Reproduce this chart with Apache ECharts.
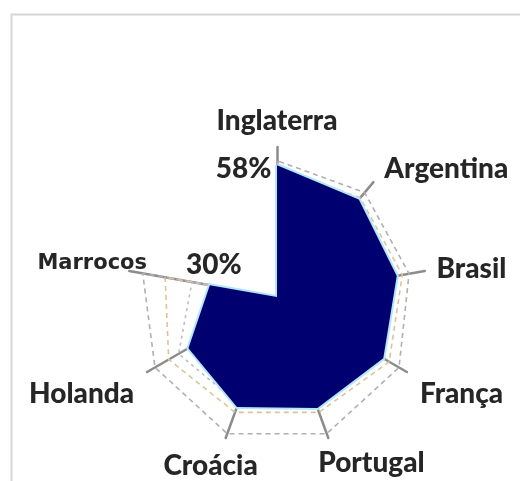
<!DOCTYPE html>
<html>
<head>
<meta charset="utf-8">
<script src="https://cdn.jsdelivr.net/npm/echarts@6/dist/echarts.min.js"></script>
<style>
html,body{margin:0;padding:0;background:#fff;}
#chart{width:520px;height:481px;}
</style>
</head>
<body>
<div id="chart"></div>
<script>
// Indicators in counter-clockwise order starting at the top (blank axis = notch)
var categories = ['Inglaterra', '', 'Marrocos', 'Holanda', 'Croácia', 'Portugal', 'França', 'Brasil', 'Argentina'];
var mainValues = [58, 0, 30, 45, 51.5, 52, 54, 53.5, 56];
var dashedOuter = [60, 0, 60, 62, 64, 64, 62, 59, 60];
var dashedMiddle = [57, 0, 50, 55, 54, 54, 57, 56, 57];
var dashedInner = [55, 0, 38, 50, 50, 50, 52, 52, 54];
var labelledMain = [0];      // index of Inglaterra
var labelledSecond = [2];    // index of Marrocos
var axisMax = 66;

var WEIGHT = 900;
function nameStyle(extra) {
  var o = {color: '#262626', fontFamily: 'Lato', fontWeight: WEIGHT, fontSize: 28};
  for (var j in (extra || {})) o[j] = extra[j];
  return o;
}
var indicatorStyles = {
  'Inglaterra': {nameGap: 12, nameTextStyle: nameStyle()},
  '': {axisLine: {show: false}},
  'Marrocos': {nameGap: -18, nameTextStyle: nameStyle({fontSize: 21, fontFamily: 'DejaVu Sans', fontWeight: 'bold', verticalAlign: 'bottom'})},
  'Holanda': {nameGap: 15, nameTextStyle: nameStyle({verticalAlign: 'top'})},
  'Croácia': {nameTextStyle: nameStyle({align: 'center', verticalAlign: 'top', padding: [0, 20, 0, 0]})},
  'Portugal': {nameGap: 12, nameTextStyle: nameStyle({align: 'center', verticalAlign: 'top', padding: [0, 0, 0, 78]})},
  'França': {nameGap: 15, nameTextStyle: nameStyle({verticalAlign: 'top'})},
  'Brasil': {nameGap: 12, nameTextStyle: nameStyle()},
  'Argentina': {nameGap: 17, nameTextStyle: nameStyle()}
};

var indicators = categories.map(function (c) {
  var o = {name: c, max: axisMax, min: 0};
  var s = indicatorStyles[c] || {};
  for (var k in s) o[k] = s[k];
  return o;
});

var hiddenSymbol = {color: 'rgba(0,0,0,0)', borderWidth: 0};

var chart = echarts.init(document.getElementById('chart'), null, {renderer: 'canvas'});
chart.setOption({
  animation: false,
  backgroundColor: '#ffffff',
  graphic: [{
    type: 'rect', left: 9, top: 12, silent: true,
    shape: {width: 530, height: 490},
    style: {fill: 'none', stroke: '#d6d6d6', lineWidth: 2}
  }],
  radar: {
    center: [277, 297],
    radius: 150,
    startAngle: 90,
    splitNumber: 6,
    shape: 'circle',
    indicator: indicators,
    axisName: nameStyle(),
    nameGap: 15,
    axisLine: {show: true, lineStyle: {color: '#8c8c8c', width: 2.5}},
    splitLine: {show: false},
    splitArea: {show: false},
    axisTick: {show: false},
    axisLabel: {show: false}
  },
  series: [{
    type: 'radar',
    symbol: 'none',
    silent: true,
    data: [
      {value: dashedOuter, lineStyle: {color: '#b0b0b0', width: 1.6, type: [5, 4]}},
      {value: dashedMiddle, lineStyle: {color: '#dcc39c', width: 1.6, type: [5, 4]}},
      {value: dashedInner, lineStyle: {color: '#bdbdbd', width: 1.6, type: [3, 4]}}
    ]
  }, {
    type: 'radar',
    symbol: 'circle',
    symbolSize: 1,
    silent: true,
    itemStyle: hiddenSymbol,
    data: [{
      value: mainValues,
      lineStyle: {color: '#b3e6f7', width: 4},
      areaStyle: {color: '#000070', opacity: 1},
      itemStyle: hiddenSymbol,
      label: {
        show: true,
        position: 'left',
        distance: 5,
        offset: [0, 4],
        color: '#262626',
        fontFamily: 'Lato',
        fontWeight: WEIGHT,
        fontSize: 28,
        formatter: function (p) {
          return labelledMain.indexOf(p.dimensionIndex) >= 0 ? p.value + '%' : '';
        }
      }
    }, {
      value: mainValues,
      lineStyle: {opacity: 0},
      itemStyle: hiddenSymbol,
      label: {
        show: true,
        position: 'top',
        distance: 6,
        offset: [4, 0],
        color: '#262626',
        fontFamily: 'Lato',
        fontWeight: WEIGHT,
        fontSize: 28,
        formatter: function (p) {
          return labelledSecond.indexOf(p.dimensionIndex) >= 0 ? p.value + '%' : '';
        }
      }
    }]
  }]
});
</script>
</body>
</html>
